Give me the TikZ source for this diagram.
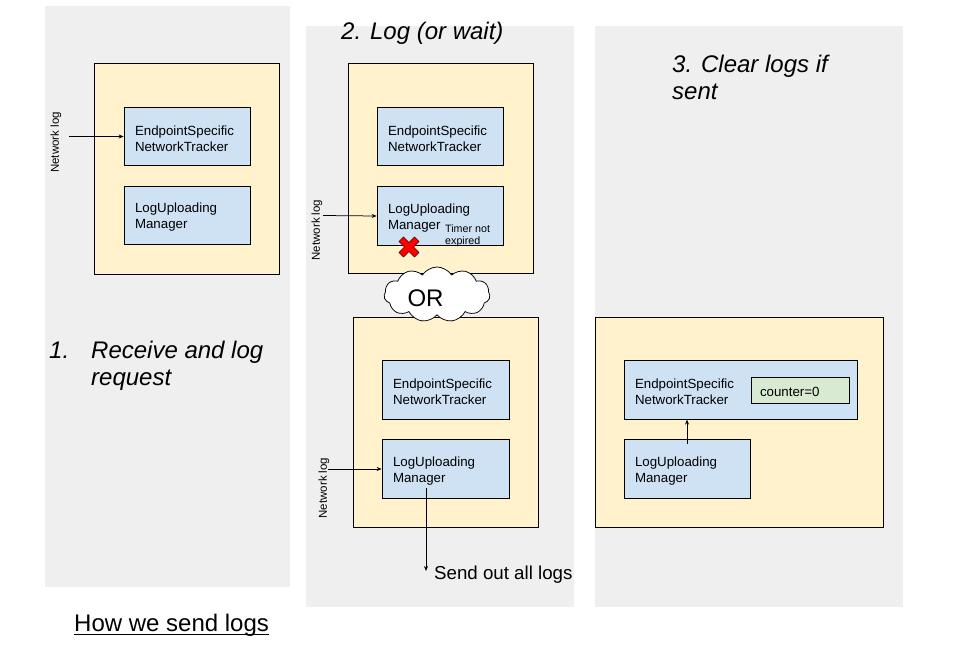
\documentclass[tikz,border=0pt]{standalone}
\usepackage{fontspec}
\setmainfont{Liberation Sans}
\usetikzlibrary{shapes.symbols,arrows.meta,calc}
\definecolor{panelgray}{HTML}{EFEFEF}
\definecolor{boxyellow}{HTML}{FFF2CC}
\definecolor{boxblue}{HTML}{CFE2F3}
\definecolor{boxgreen}{HTML}{D9EAD3}
\definecolor{xred}{HTML}{FF0000}
\tikzset{
  panel/.style={fill=panelgray, inner sep=0pt},
  ybox/.style={draw=black, fill=boxyellow, line width=0.75pt, inner sep=0pt},
  bbox/.style={draw=black, fill=boxblue, line width=0.75pt, align=left, inner xsep=11pt, inner ysep=0pt,
     minimum height=58.5, font=\fontsize{13.3}{16}\selectfont, execute at begin node={\rule{0pt}{13.7pt}}},
  gbox/.style={draw=black, fill=boxgreen, line width=0.75pt, align=left, inner xsep=9pt, inner ysep=0pt,
     font=\fontsize{13.3}{16}\selectfont, execute at begin node={\rule{0pt}{13.7pt}}},
  title/.style={anchor=base west, inner sep=0pt, font=\fontsize{24}{28}\selectfont\itshape},
  netlog/.style={rotate=90, inner sep=0pt, font=\fontsize{11.5}{13}\selectfont},
  arr/.style={line width=0.75pt, -{Stealth[length=5pt,width=4pt]}},
}
\begin{document}
\begin{tikzpicture}[x=1pt,y=-1pt]
\useasboundingbox (0,0) rectangle (971,664);
% panels
\node[panel, minimum width=245, minimum height=581] (p1) at (167.5,296.5) {};
\node[panel, minimum width=268, minimum height=581] (p2) at (440,316.5) {};
\node[panel, minimum width=308, minimum height=581] (p3) at (749,316.5) {};
% yellow boxes
\node[ybox, minimum width=185, minimum height=211] (y1) at (186.5,168.5) {};
\node[ybox, minimum width=185, minimum height=210] (y2) at (440.5,168) {};
\node[ybox, minimum width=185, minimum height=210] (y3) at (445.5,422) {};
\node[ybox, minimum width=288, minimum height=210] (y4) at (739,422) {};
% blue boxes
\node[bbox, minimum width=126, text width=104] (e1) at (187,136.5) {EndpointSpecific\\NetworkTracker};
\node[bbox, minimum width=126, text width=104] (l1) at (187,215.5) {LogUploading\\Manager};
\node[bbox, minimum width=126, text width=104] (e2) at (440,136.5) {EndpointSpecific\\NetworkTracker};
\node[bbox, minimum width=126, text width=104] (l2) at (440,216) {LogUploading\\Manager};
\node[bbox, minimum width=127, text width=105] (e3) at (445.5,390) {EndpointSpecific\\NetworkTracker};
\node[bbox, minimum width=127, text width=105] (l3) at (445.5,469) {LogUploading\\Manager};
\node[bbox, minimum width=233, text width=211] (e4) at (740.5,390) {EndpointSpecific\\NetworkTracker};
\node[bbox, minimum width=126, text width=104] (l4) at (687,469) {LogUploading\\Manager};
\node[gbox, minimum width=98, minimum height=26, text width=80] (cnt) at (800,390) {counter=0};
% timer note
\node[anchor=west, inner sep=0pt, align=left, font=\fontsize{10.7}{12}\selectfont] (timer) at (445,236) {Timer not\\expired};
% network log labels
\node[netlog] (n1) at (56,142.5) {Network log};
\node[netlog] (n2) at (317,230) {Network log};
\node[netlog] (n3) at (324,488) {Network log};
% arrows
\coordinate (a1) at (69,136.5);
\coordinate (a2) at (323,215.5);
\coordinate (a3) at (328,469);
\draw[arr] (a1) -- (e1.west);
\draw[arr] (a2) -- (l2.west);
\draw[arr] (a3) -- (l3.west);
\coordinate (s0) at (426,488);
\coordinate (s1) at (426,571);
\draw[arr] (s0) -- (s1);
\node[anchor=west, inner sep=0pt, font=\fontsize{18.7}{22}\selectfont] (send) at (434,575) {Send out all logs};
\draw[arr] ([yshift=-5pt]l4.north) -- (l4.north |- e4.south);
% red cross
\begin{scope}[shift={(409,247)}, rotate=45]
\filldraw[fill=xred, draw=black!70!red, line width=0.5pt]
  (3.2,11) -- (3.2,3.2) -- (11,3.2) -- (11,-3.2) -- (3.2,-3.2) -- (3.2,-11)
  -- (-3.2,-11) -- (-3.2,-3.2) -- (-11,-3.2) -- (-11,3.2) -- (-3.2,3.2) -- (-3.2,11) -- cycle;
\end{scope}
% cloud
\node[cloud, draw=black, fill=white, line width=0.75pt, cloud puffs=11, cloud puff arc=115, aspect=1.9,
      minimum width=106, minimum height=55, inner sep=0pt] (cloud) at (437,294.5) {};
\node[inner sep=0pt, font=\fontsize{24}{28}\selectfont] (ortxt) at (425.5,298) {OR};
% titles
\node[title] (t2) at (341,39.5) {2. Log (or wait)};
\node[title] (t3a) at (672,72.5) {3. Clear logs if};
\node[title] (t3b) at (672,99.5) {sent};
\node[title] (t1n) at (49,358.5) {1.};
\node[title] (t1a) at (91,358.5) {Receive and log};
\node[title] (t1b) at (91,385.5) {request};
\node[anchor=base west, inner sep=0pt, font=\fontsize{24}{28}\selectfont] (how) at (74,631) {How we send logs};
\draw[line width=1pt] ([yshift=-3pt]how.base west) -- ([yshift=-3pt]how.base east);
\end{tikzpicture}
\end{document}
